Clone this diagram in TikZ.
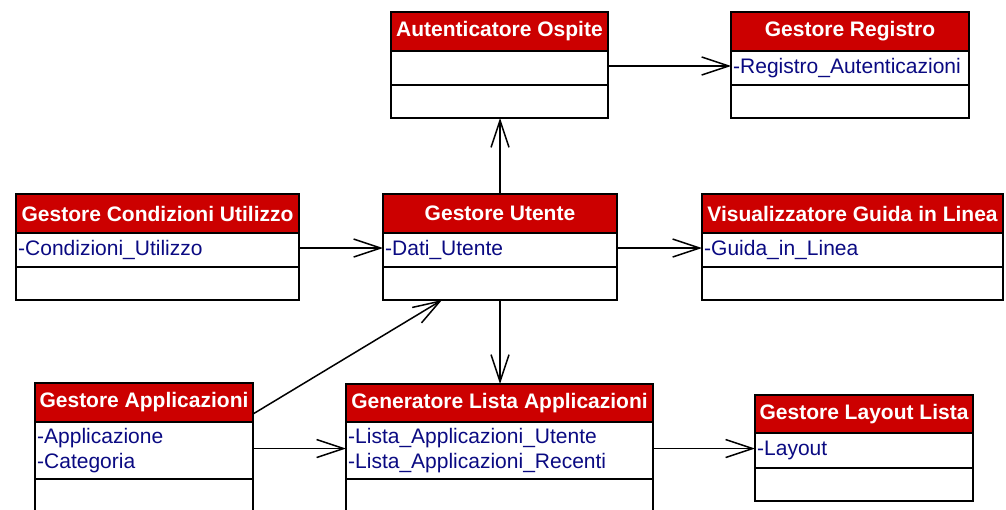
\documentclass[tikz,border=0pt]{standalone}
\usepackage{fontspec}
\setmainfont{Liberation Sans}
\usetikzlibrary{arrows.meta}
\definecolor{hdrred}{RGB}{204,0,0}
\definecolor{attrblue}{RGB}{10,10,130}
\tikzset{
  umlbox/.style={draw=black, line width=1.5pt, inner sep=0pt, outer sep=0pt, anchor=north west, minimum width=#1},
  hdr/.style={umlbox=#1, fill=hdrred, text=white, font=\fontsize{21}{25}\selectfont\bfseries, minimum height=39pt},
  att/.style={umlbox=#1, fill=white, minimum height=34pt},
  ops/.style={umlbox=#1, fill=white, minimum height=33pt},
  atxt/.style={anchor=west, inner sep=0pt, text=attrblue, align=left, font=\fontsize{21}{25}\selectfont},
  conn/.style={line width=1.5pt, -{Straight Barb[length=27pt,width=18pt]}}
}
\begin{document}
\begin{tikzpicture}[x=1pt,y=-1pt]
\useasboundingbox (0,0) rectangle (1006,509);
\clip (0,0) rectangle (1006,509);
\fill[white] (0,0) rectangle (1006,509);

% Autenticatore Ospite
\node[hdr=217pt] (au-h) at (391,12) {Autenticatore Ospite};
\node[att=217pt] (au-a) at (au-h.south west) {};
\node[ops=217pt] (au-o) at (au-a.south west) {};

% Gestore Registro
\node[hdr=238pt] (gr-h) at (731,12) {Gestore Registro};
\node[att=238pt] (gr-a) at (gr-h.south west) {};
\node[ops=238pt] (gr-o) at (gr-a.south west) {};
\node[atxt] (gr-t) at ([xshift=2pt]gr-a.west) {-Registro\_Autenticazioni};

% Gestore Condizioni Utilizzo
\node[hdr=283pt] (gc-h) at (16,194) {Gestore Condizioni Utilizzo};
\node[att=283pt] (gc-a) at (gc-h.south west) {};
\node[ops=283pt] (gc-o) at (gc-a.south west) {};
\node[atxt] (gc-t) at ([xshift=2pt]gc-a.west) {-Condizioni\_Utilizzo};

% Gestore Utente
\node[hdr=234pt] (gu-h) at (383,194) {Gestore Utente};
\node[att=234pt] (gu-a) at (gu-h.south west) {};
\node[ops=234pt] (gu-o) at (gu-a.south west) {};
\node[atxt] (gu-t) at ([xshift=2pt]gu-a.west) {-Dati\_Utente};

% Visualizzatore Guida in Linea
\node[hdr=301pt] (vg-h) at (702,194) {Visualizzatore Guida in Linea};
\node[att=301pt] (vg-a) at (vg-h.south west) {};
\node[ops=301pt] (vg-o) at (vg-a.south west) {};
\node[atxt] (vg-t) at ([xshift=2pt]vg-a.west) {-Guida\_in\_Linea};

% Gestore Applicazioni
\node[hdr=218pt] (ga-h) at (35,383) {Gestore Applicazioni};
\node[att=218pt, minimum height=57pt] (ga-a) at (ga-h.south west) {};
\node[ops=218pt, minimum height=40pt] (ga-o) at (ga-a.south west) {};
\node[atxt] (ga-t) at ([xshift=2pt]ga-a.west) {-Applicazione\\-Categoria};

% Generatore Lista Applicazioni
\node[hdr=307pt, minimum height=38pt] (gl-h) at (346,384) {Generatore Lista Applicazioni};
\node[att=307pt, minimum height=57pt] (gl-a) at (gl-h.south west) {};
\node[ops=307pt, minimum height=40pt] (gl-o) at (gl-a.south west) {};
\node[atxt] (gl-t) at ([xshift=2pt]gl-a.west) {-Lista\_Applicazioni\_Utente\\-Lista\_Applicazioni\_Recenti};

% Gestore Layout Lista
\node[hdr=218pt, minimum height=38pt] (gll-h) at (755,395) {Gestore Layout Lista};
\node[att=218pt, minimum height=35pt] (gll-a) at (gll-h.south west) {};
\node[ops=218pt] (gll-o) at (gll-a.south west) {};
\node[atxt] (gll-t) at ([xshift=2pt]gll-a.west) {-Layout};

% connectors
\draw[conn] ([yshift=2pt]au-a.east) -- ([yshift=2pt]gr-a.west);
\draw[conn] (gu-h.north) -- (gu-h.north |- au-o.south);
\draw[conn] ([yshift=2pt]gc-a.east) -- ([yshift=2pt]gu-a.west);
\draw[conn] ([yshift=2pt]gu-a.east) -- ([yshift=2pt]vg-a.west);
\draw[conn] (gu-o.south) -- (gu-o.south |- gl-h.north);
\draw[conn] ([yshift=8pt]ga-h.south east) -- ([xshift=59pt]gu-o.south west);
\draw[conn] ([yshift=2pt]ga-a.east) -- ([yshift=2pt]gl-a.west);
\draw[conn] ([yshift=2pt]gl-a.east) -- ([yshift=2pt]gll-a.west);
\end{tikzpicture}
\end{document}
